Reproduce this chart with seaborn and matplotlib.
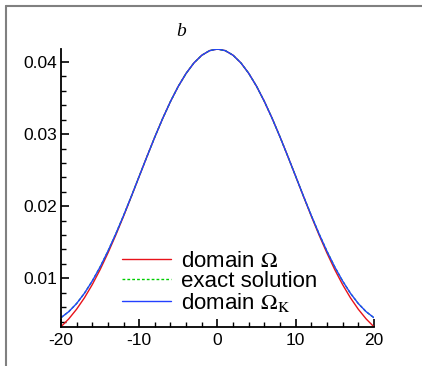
import numpy as np
import pandas as pd
import matplotlib
matplotlib.use('Agg')
import matplotlib.pyplot as plt
from matplotlib.lines import Line2D
from matplotlib.ticker import MultipleLocator
import seaborn as sns

# values (symmetric about x = 0)
x_half = [0, 1, 2, 3, 4, 5, 6, 7, 8, 9, 10, 11, 12, 13, 14, 15, 16, 17, 18, 19, 20]
omega_half = [0.04180, 0.04158, 0.04094, 0.03988, 0.03843, 0.03664, 0.03453,
              0.03217, 0.02961, 0.02691, 0.02414, 0.02135, 0.01861, 0.01598,
              0.01350, 0.01120, 0.00913, 0.00730, 0.00572, 0.00438, 0.00328]
omega_k_half = [0.04180, 0.04158, 0.04094, 0.03988, 0.03843, 0.03664, 0.03453,
                0.03217, 0.02961, 0.02691, 0.02416, 0.02139, 0.01871, 0.01615,
                0.01376, 0.01157, 0.00963, 0.00793, 0.00651, 0.00538, 0.00454]

x_vals = [-v for v in x_half[:0:-1]] + x_half
omega = omega_half[:0:-1] + omega_half
omega_k = omega_k_half[:0:-1] + omega_k_half
exact = omega_k

labels = [r'domain $\Omega$', 'exact solution', r'domain $\Omega_{\rm K}$']

sns.set_style('ticks')
plt.rcParams['font.family'] = ['Liberation Sans', 'DejaVu Sans']
plt.rcParams['mathtext.fontset'] = 'stix'
plt.rcParams['xtick.direction'] = 'in'
plt.rcParams['ytick.direction'] = 'in'
plt.rcParams['text.color'] = 'black'
plt.rcParams['xtick.color'] = 'black'
plt.rcParams['ytick.color'] = 'black'
plt.rcParams['xtick.labelcolor'] = 'black'
plt.rcParams['ytick.labelcolor'] = 'black'

fig = plt.figure(figsize=(4.22, 3.66), dpi=100)
ax = fig.add_axes([0.1445, 0.1066, 0.7415, 0.7594])

df = pd.DataFrame({'x': x_vals, 'omega': omega, 'exact': exact, 'omega_k': omega_k})
sns.lineplot(data=df, x='x', y='omega', ax=ax, color='#e8121a', lw=1.0, label=labels[0])
sns.lineplot(data=df, x='x', y='exact', ax=ax, color='#00cc00', lw=1.0,
             linestyle=(0, (2, 1.5)), label=labels[1])
sns.lineplot(data=df, x='x', y='omega_k', ax=ax, color='#2340ff', lw=1.0, label=labels[2])

ax.set_xlim(-20, 20)
ax.set_ylim(0.00325, 0.0418)
ax.set_xlabel('')
ax.set_ylabel('')
ax.xaxis.set_major_locator(MultipleLocator(10))
ax.xaxis.set_minor_locator(MultipleLocator(2))
ax.yaxis.set_major_locator(MultipleLocator(0.01))
ax.yaxis.set_minor_locator(MultipleLocator(0.002))
ax.tick_params(which='major', length=6, width=1.2, labelsize=12.5, pad=3)
ax.tick_params(axis='x', which='major', pad=4.5)
ax.tick_params(which='minor', length=3.5, width=1.0)
ax.set_yticks([0.01, 0.02, 0.03, 0.04])
ax.set_yticklabels(['0.01', '0.02', '0.03', '0.04'])
ax.set_xticks([-20, -10, 0, 10, 20])
ax.set_xticklabels(['-20', '-10', '0', '10', '20'])
for side in ['top', 'right']:
    ax.spines[side].set_visible(False)
for side in ['left', 'bottom']:
    ax.spines[side].set_linewidth(1.3)
    ax.spines[side].set_color('black')

ax.text(-4.7, 0.0443, 'b', fontsize=14, style='italic', family='Liberation Serif',
        ha='center', va='center')

leg = ax.legend(loc='upper left', bbox_to_anchor=(0.168, 0.305), frameon=False,
                fontsize=16, handlelength=2.2, handletextpad=0.45,
                labelspacing=-0.05, borderaxespad=0)

# outer gray frame
fig.add_artist(Line2D([6 / 422, 1], [1 - 6 / 366, 1 - 6 / 366], color='#808080', lw=1.5))
fig.add_artist(Line2D([6 / 422, 6 / 422], [0, 1 - 6 / 366], color='#808080', lw=1.5))

fig.savefig('out.png', dpi=100)
